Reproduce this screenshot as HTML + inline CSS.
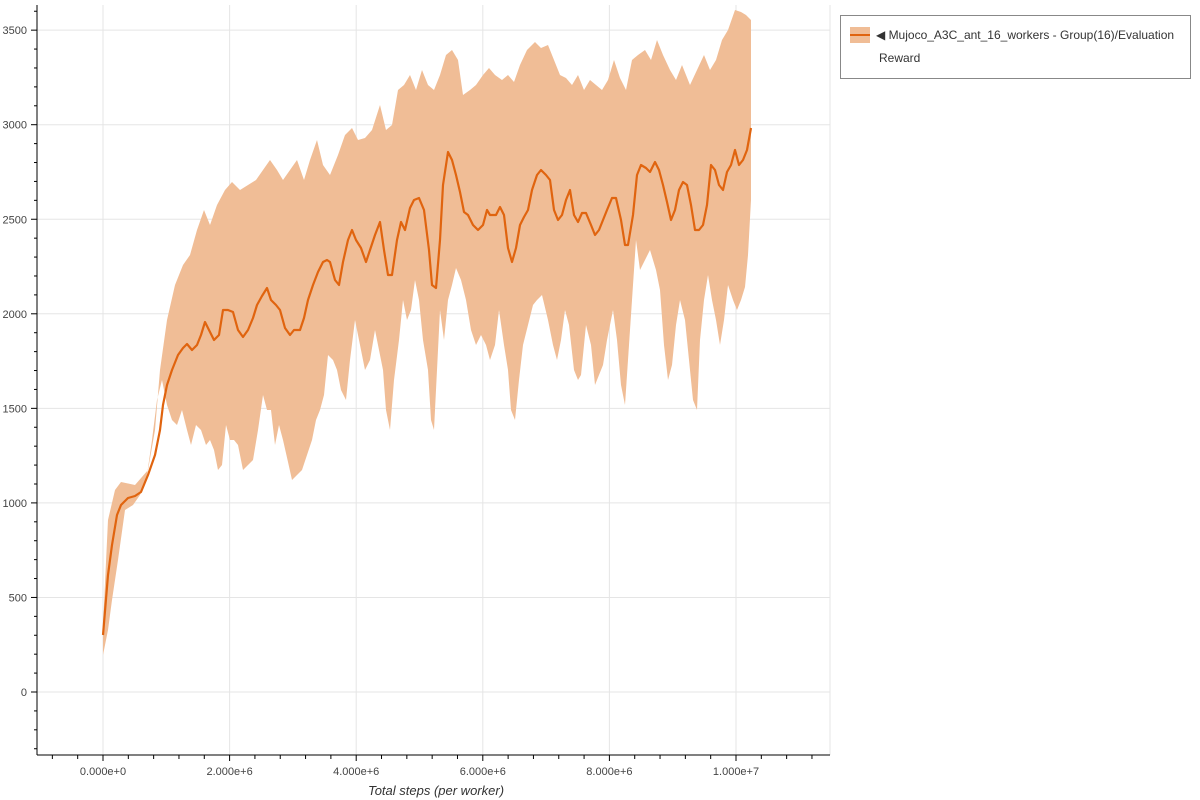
<!DOCTYPE html>
<html><head><meta charset="utf-8"><style>
html,body{margin:0;padding:0;background:#fff;}
svg{display:block;font-family:"Liberation Sans",sans-serif;}
</style></head><body>
<svg id="s" width="1200" height="800" xmlns="http://www.w3.org/2000/svg">
<g id="grid"></g>
<polygon id="band" fill="#f0bd96" stroke="none"/>
<polyline id="mean" fill="none" stroke="#e0640f" stroke-width="2.2" stroke-linejoin="round"/>
<g id="axes" stroke="#000" stroke-width="1"></g>
<g id="labels" font-size="11" fill="#444"></g>
<text x="436" y="795" font-size="13" font-style="italic" fill="#333" text-anchor="middle">Total steps (per worker)</text>
<rect x="840.5" y="15.5" width="350" height="63" fill="#fff" stroke="#888"/>
<rect x="850" y="27" width="20" height="16" fill="#f0bd96"/>
<line x1="850" y1="35" x2="870" y2="35" stroke="#e0640f" stroke-width="2"/>
<text x="876" y="39" font-size="12" fill="#333">◀ Mujoco_A3C_ant_16_workers - Group(16)/Evaluation</text>
<text x="879" y="62" font-size="12" fill="#333">Reward</text>
</svg>
<script>
var NS="http://www.w3.org/2000/svg";
function el(p,t,a,txt){var e=document.createElementNS(NS,t);for(var k in a)e.setAttribute(k,a[k]);if(txt)e.textContent=txt;document.getElementById(p).appendChild(e);}
var L=37,R=830,T=5,B=755;
function Y(v){return 692-v*0.1891;}
function X(v){return 103+v*63.3e-6;}
el("grid","line",{x1:R,y1:T,x2:R,y2:B,stroke:"#e5e5e5"});
for(var v=0;v<=3500;v+=500){var y=Y(v);el("grid","line",{x1:L,y1:y,x2:R,y2:y,stroke:"#e5e5e5"});el("axes","line",{x1:31,y1:y,x2:L,y2:y});el("labels","text",{x:27,y:y+4,"text-anchor":"end"},""+v);}
for(var v=-300;v<=3600;v+=100){if(v%500==0)continue;var y=Y(v);if(y<T||y>B)continue;el("axes","line",{x1:34,y1:y,x2:L,y2:y});}
var xl=["0.000e+0","2.000e+6","4.000e+6","6.000e+6","8.000e+6","1.000e+7"];
for(var i=0;i<=5;i++){var v=i*2e6,x=X(v);el("grid","line",{x1:x,y1:T,x2:x,y2:B,stroke:"#e5e5e5"});el("axes","line",{x1:x,y1:B,x2:x,y2:B+6});el("labels","text",{x:x,y:775,"text-anchor":"middle"},xl[i]);}
for(var v=-1.2e6;v<=1.16e7;v+=4e5){if(Math.abs(v/2e6-Math.round(v/2e6))<1e-6)continue;var x=X(v);if(x<L||x>R)continue;el("axes","line",{x1:x,y1:B,x2:x,y2:B+4});}
el("axes","line",{x1:L,y1:T,x2:L,y2:B});el("axes","line",{x1:L,y1:B,x2:R,y2:B});
var mean=[[103,635],[108,575],[112,545],[117,515],[121,505],[128,498],[135,496],[141,492],[148,475],[155,455],[160,430],[163,405],[167,385],[172,370],[178,355],[183,348],[187,344],[192,350],[197,345],[201,335],[205,322],[209,330],[214,340],[219,335],[223,310],[228,310],[233,312],[238,330],[243,337],[248,330],[253,318],[257,305],[262,296],[267,288],[271,300],[276,305],[280,310],[285,328],[290,335],[294,330],[300,330],[304,318],[308,300],[313,285],[318,272],[323,262],[327,260],[330,262],[335,280],[339,285],[343,262],[348,240],[352,230],[356,240],[361,248],[366,262],[370,250],[375,235],[380,222],[384,250],[388,275],[392,275],[397,240],[401,222],[405,230],[410,208],[414,200],[419,198],[424,210],[429,250],[432,285],[436,288],[440,240],[443,185],[448,152],[452,160],[456,175],[460,192],[464,212],[468,215],[473,225],[478,230],[483,225],[487,210],[490,215],[496,215],[500,207],[504,215],[508,248],[512,262],[516,248],[520,225],[524,217],[528,210],[532,190],[537,175],[541,170],[546,175],[550,180],[554,210],[558,220],[562,215],[566,200],[570,190],[574,215],[578,222],[582,213],[586,213],[591,225],[595,235],[599,230],[603,220],[607,210],[612,198],[616,198],[621,220],[625,245],[628,245],[633,215],[637,175],[641,165],[646,168],[650,172],[655,162],[659,170],[663,185],[667,202],[671,220],[675,210],[679,190],[683,182],[687,185],[691,205],[695,230],[699,230],[703,225],[707,205],[711,165],[715,170],[719,185],[723,190],[727,172],[731,165],[735,150],[739,165],[743,160],[747,150],[751,128]];
var up=[[103,625],[108,520],[115,490],[121,482],[135,485],[148,470],[155,430],[160,370],[167,320],[175,285],[183,265],[190,255],[197,230],[204,210],[210,225],[217,205],[225,190],[232,182],[240,190],[248,185],[256,180],[263,170],[270,160],[277,170],[283,180],[290,170],[297,160],[304,180],[310,160],[317,140],[323,165],[330,175],[338,155],[345,135],[352,128],[358,140],[365,138],[372,130],[380,105],[386,130],[392,125],[398,90],[404,85],[410,75],[416,90],[422,70],[428,85],[434,90],[440,75],[446,55],[452,50],[458,60],[463,95],[470,90],[476,85],[483,75],[489,68],[495,75],[502,80],[508,75],[514,82],[520,65],[527,50],[535,42],[541,48],[548,45],[554,60],[560,75],[566,78],[572,85],[578,75],[584,90],[590,80],[596,85],[602,90],[608,80],[614,60],[620,78],[626,90],[632,60],[638,55],[645,50],[651,60],[657,40],[663,55],[670,70],[676,80],[682,65],[690,85],[697,70],[704,55],[710,70],[716,60],[722,40],[728,30],[735,10],[741,12],[746,15],[751,20]];
var lo=[[751,200],[748,255],[745,287],[741,300],[737,310],[733,300],[728,285],[724,320],[720,345],[716,320],[712,300],[708,275],[704,300],[700,340],[697,410],[693,400],[689,360],[685,320],[680,300],[676,325],[672,365],[668,380],[664,345],[660,290],[656,270],[650,250],[645,260],[640,270],[636,240],[632,300],[628,360],[625,405],[621,385],[617,340],[613,310],[607,340],[603,365],[599,375],[595,385],[591,345],[586,325],[581,375],[578,380],[574,370],[569,325],[565,310],[561,340],[557,360],[553,345],[548,320],[542,295],[537,300],[533,305],[528,325],[523,345],[519,380],[515,420],[511,410],[508,370],[504,345],[499,310],[495,345],[490,360],[486,345],[481,335],[476,345],[471,330],[466,300],[461,280],[456,268],[452,285],[448,300],[444,340],[440,310],[437,370],[434,430],[431,420],[428,370],[423,340],[419,300],[415,280],[411,310],[407,320],[403,300],[399,340],[394,380],[390,430],[386,410],[383,370],[379,350],[375,330],[370,360],[365,370],[360,345],[355,320],[350,360],[346,400],[341,390],[337,370],[333,360],[328,355],[324,395],[320,410],[316,420],[312,440],[307,455],[302,470],[297,475],[292,480],[288,462],[283,440],[279,425],[275,445],[271,410],[267,410],[263,395],[258,430],[253,460],[248,465],[243,470],[238,445],[234,440],[230,440],[226,425],[222,465],[218,470],[214,450],[210,440],[206,445],[201,430],[196,425],[191,445],[187,430],[182,410],[177,425],[172,420],[167,405],[162,380],[157,400],[152,440],[147,475],[140,495],[133,505],[125,510],[118,560],[112,600],[108,630],[103,655]];
function s(a){return a.map(function(p){return p[0]+","+p[1];}).join(" ");}
document.getElementById("band").setAttribute("points",s(up.concat(lo)));
document.getElementById("mean").setAttribute("points",s(mean));
</script>
</body></html>
